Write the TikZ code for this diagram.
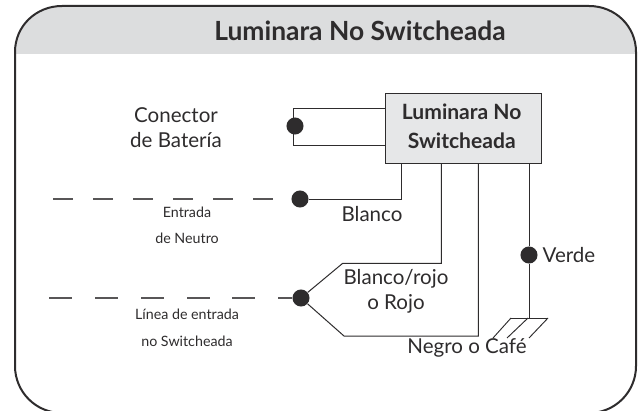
\documentclass[tikz,border=0pt]{standalone}
\usepackage{fontspec}
\setmainfont{Lato}
\definecolor{ink}{HTML}{2E2C2D}
\definecolor{band}{HTML}{DCDDDE}
\definecolor{boxfill}{HTML}{E6E7E8}
\tikzset{
  x=.75pt,y=-.75pt,
  wire/.style={draw=ink,line width=.75pt},
  dot/.style={circle,fill=ink,draw=none,minimum size=12.8pt,inner sep=0pt},
  lab/.style={text=ink,font=\fontsize{15.4pt}{15.4pt}\selectfont,inner sep=0pt},
  small/.style={text=ink,font=\fontsize{10.7pt}{10.7pt}\selectfont,inner sep=0pt},
  boldlab/.style={text=ink,font=\fontsize{15.8pt}{15.8pt}\selectfont\bfseries,inner sep=0pt},
  dashwire/.style={draw=ink!80,line width=.95pt}
}
\begin{document}
\begin{tikzpicture}
\useasboundingbox (0,0) rectangle (641,410);
\fill[white] (0,0) rectangle (641,410);
% header band
\fill[band] (15,54) -- (15,52) .. controls (15,26) and (36,6) .. (62,6) -- (589,6) .. controls (615,6) and (636,26) .. (636,52) -- (636,54) -- cycle;
% frame, its lower edge cut off by the page
\begin{scope}
\clip (0,0) rectangle (641,410);
\draw[draw=ink,line width=1.5pt] (62,6) -- (589,6) .. controls (615,6) and (636,26) .. (636,52) -- (636,366) .. controls (636,392) and (615,413) .. (589,413) -- (62,413) .. controls (36,413) and (15,392) .. (15,366) -- (15,52) .. controls (15,26) and (36,6) .. (62,6) -- cycle;
\end{scope}
\node[text=ink,font=\fontsize{19.8pt}{19.8pt}\selectfont\bfseries,inner sep=0pt] (title) at (360,31) {Luminara No Switcheada};
% device box
\node[draw=ink,fill=boxfill,line width=.9pt,minimum width=117pt,minimum height=52.5pt,inner sep=0pt] (box) at (463.8,128.5) {};
\node[boldlab] (boxa) at (461.7,112) {Luminara No};
\node[boldlab] (boxb) at (461.7,141) {Switcheada};
% dots
\node[dot] (d1) at (295,126) {};
\node[dot] (d2) at (300,199) {};
\node[dot] (d3) at (301,298) {};
\node[dot] (d4) at (529,255) {};
% wire ends
\coordinate (bl1) at (box.west |- 0,108.5);
\coordinate (bl2) at (box.west |- 0,145.5);
\coordinate (s1) at (401.7,163.5);
\coordinate (s2) at (441.3,163.5);
\coordinate (s3) at (478.3,163.5);
\coordinate (s4) at (529,163.5);
\coordinate (g) at (529,318);
% wires
\draw[wire] (bl1) -- (293.5,108.5) -- (293.5,145.5) -- (bl2);
\draw[wire] (d2) -- (401.7,199) -- (s1);
\draw[wire] (d3) -- (342.7,263.3) -- (441.3,263.3) -- (s2);
\draw[wire] (d3) -- (344,336) -- (478.3,336) -- (s3);
\draw[wire] (s4) -- (d4) -- (g);
% ground
\draw[wire,line width=.7pt] (511,318) -- (548,318);
\draw[wire,line width=.7pt] (511,318) -- (493,338);
\draw[wire,line width=.7pt] (528,318) -- (507,338);
\draw[wire,line width=.7pt] (548,318) -- (529,338);
% dashed feeds
\foreach \a/\b in {53/73,93/113,133/153,173/193,213/233,253/273}
  \draw[dashwire] (\a,199) -- (\b,199);
\foreach \a/\b in {49/72,95/118,141/164,187/210,232/255}
  \draw[dashwire] (\a,298) -- (\b,298);
\draw[dashwire] (278,298) -- (d3);
% labels
\node[lab] (c1) at (176,115) {Conector};
\node[lab] (c2) at (176,140) {de Batería};
\node[small] (n1) at (187,212) {Entrada};
\node[small] (n2) at (187,238) {de Neutro};
\node[small] (l1) at (187,314) {Línea de entrada};
\node[small] (l2) at (187,341) {no Switcheada};
\node[lab] (bl) at (372,214) {Blanco};
\node[lab] (br) at (396,279) {Blanco/rojo};
\node[lab] (or) at (396,304) {o Rojo};
\node[lab] (ne) at (467,348) {Negro o Café};
\node[lab] (ve) at (569,255) {Verde};
\end{tikzpicture}
\end{document}
